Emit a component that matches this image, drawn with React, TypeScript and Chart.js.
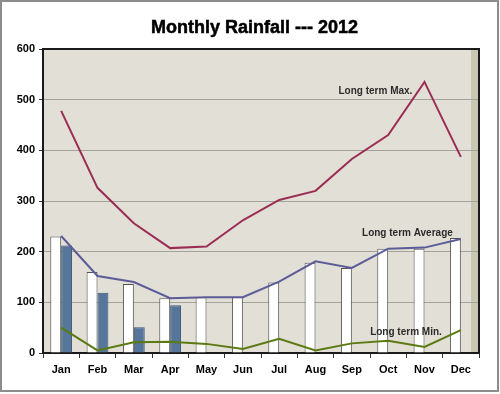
import React, { useEffect, useRef } from "react";
import { Chart, registerables } from "chart.js";

Chart.register(...registerables);

const months = ["Jan", "Feb", "Mar", "Apr", "May", "Jun", "Jul", "Aug", "Sep", "Oct", "Nov", "Dec"];
const avgBarValues = [230, 160, 136, 108, 110, 110, 139, 178, 168, 206, 206, 227];
const avgLineValues = [231, 152, 140, 108, 110, 110, 141, 181, 168, 206, 208, 225];
const rain2012 = [212, 119, 51, 94, null, null, null, null, null, null, null, null];
const maxValues = [478, 326, 256, 207, 210, 262, 302, 320, 383, 430, 535, 387];
const minValues = [50, 5, 21, 22, 18, 8, 28, 5, 19, 24, 12, 45];
const yTicks = [0, 100, 200, 300, 400, 500, 600];

const noteTexts = ["Long term Max.", "Long term Average", "Long term Min."];
const noteX = [8.65, 9.53, 9.49];
const noteY = [517, 237, 41];

const titleText = "Monthly Rainfall --- 2012";

const framePlugin = {
  id: "framePlugin",
  beforeDraw(chart: any) {
    const { ctx, chartArea: a } = chart;
    ctx.save();
    ctx.fillStyle = "#ffffff";
    ctx.fillRect(0, 0, chart.width, chart.height);
    ctx.strokeStyle = "#8c8c8c";
    ctx.lineWidth = 2;
    ctx.strokeRect(1, 1, 497, 390);
    // plot background
    ctx.fillStyle = "#e2dfd7";
    ctx.fillRect(a.left, a.top, a.right - a.left, a.bottom - a.top);
    // right 3D strip
    ctx.fillStyle = "#cbc6b1";
    ctx.fillRect(a.right - 8, a.top, 8, a.bottom - a.top);
    // title
    ctx.fillStyle = "#000";
    ctx.strokeStyle = "#000";
    ctx.lineWidth = 0.5;
    ctx.font = "bold 18px 'Liberation Sans', Arial, sans-serif";
    ctx.textAlign = "center";
    ctx.textBaseline = "alphabetic";
    ctx.fillText(titleText, 254.5, 33);
    ctx.strokeText(titleText, 254.5, 33);
    ctx.restore();
  },
  afterDatasetsDraw(chart: any) {
    const { ctx, chartArea: a, scales } = chart;
    ctx.save();
    ctx.strokeStyle = "#1a1a1a";
    ctx.lineWidth = 2;
    ctx.beginPath();
    ctx.moveTo(a.left, a.top);
    ctx.lineTo(a.right, a.top);
    ctx.lineTo(a.right, a.bottom);
    ctx.stroke();
    ctx.fillStyle = "#2b2b2b";
    ctx.font = "bold 10px 'Liberation Sans', Arial, sans-serif";
    ctx.textAlign = "center";
    ctx.textBaseline = "middle";
    const x = scales.x;
    const y = scales.y;
    const step = x.getPixelForValue(1) - x.getPixelForValue(0);
    noteTexts.forEach((t, i) => {
      const px = x.getPixelForValue(0) + noteX[i] * step;
      const py = y.getPixelForValue(noteY[i]);
      ctx.fillText(t, px, py);
    });
    ctx.restore();
  },
};

export default function App() {
  const ref = useRef<HTMLCanvasElement>(null);
  useEffect(() => {
    if (!ref.current) return;
    const chart = new Chart(ref.current, {
      type: "bar",
      data: {
        labels: months,
        datasets: [
          {
            type: "line",
            label: "Long term Max.",
            data: maxValues,
            borderColor: "#9b2d55",
            borderWidth: 2,
            pointRadius: 0,
            tension: 0,
            order: 1,
          },
          {
            type: "line",
            label: "Long term Average",
            data: avgLineValues,
            borderColor: "#5c5c98",
            borderWidth: 2,
            pointRadius: 0,
            tension: 0,
            order: 1,
          },
          {
            type: "line",
            label: "Long term Min.",
            data: minValues,
            borderColor: "#5b7a12",
            borderWidth: 2,
            pointRadius: 0,
            tension: 0,
            order: 1,
          },
          {
            type: "bar",
            label: "Average",
            data: avgBarValues,
            backgroundColor: "#ffffff",
            borderColor: "#555555",
            borderWidth: 1,
            categoryPercentage: 0.6,
            barPercentage: 1,
            order: 2,
          },
          {
            type: "bar",
            label: "2012",
            data: rain2012,
            backgroundColor: "#56759a",
            borderColor: "#3e5672",
            borderWidth: 1,
            categoryPercentage: 0.6,
            barPercentage: 1,
            order: 2,
          },
        ],
      } as any,
      options: {
        responsive: false,
        animation: false,
        layout: { padding: { left: 0, right: 21, top: 49, bottom: 0 } },
        plugins: {
          legend: { display: false },
          title: { display: false },
          tooltip: { enabled: false },
        },
        scales: {
          x: {
            offset: true,
            grid: {
              display: true,
              drawOnChartArea: false,
              drawTicks: true,
              tickLength: 5,
              color: "#333",
              offset: true,
            },
            border: { color: "#1a1a1a", width: 2 },
            ticks: {
              color: "#000",
              padding: 5,
              font: { family: "'Liberation Sans', Arial, sans-serif", size: 11, weight: "bold" },
            },
            afterFit(s: any) {
              s.height = 41;
            },
          },
          y: {
            min: 0,
            max: 600,
            afterBuildTicks(s: any) {
              s.ticks = yTicks.map((v) => ({ value: v }));
            },
            grid: {
              color: "#a3a29b",
              tickColor: "#333",
              tickLength: 4,
              lineWidth: 1,
            },
            border: { color: "#1a1a1a", width: 2 },
            ticks: {
              color: "#000",
              padding: 4,
              font: { family: "'Liberation Sans', Arial, sans-serif", size: 11, weight: "bold" },
            },
            afterFit(s: any) {
              s.width = 43;
            },
          },
        },
      } as any,
      plugins: [framePlugin],
    });
    return () => chart.destroy();
  }, []);
  return (
    <div style={{ position: "absolute", left: 0, top: 0, width: 500, height: 394 }}>
      <canvas ref={ref} width={500} height={394} style={{ display: "block" }} />
    </div>
  );
}
